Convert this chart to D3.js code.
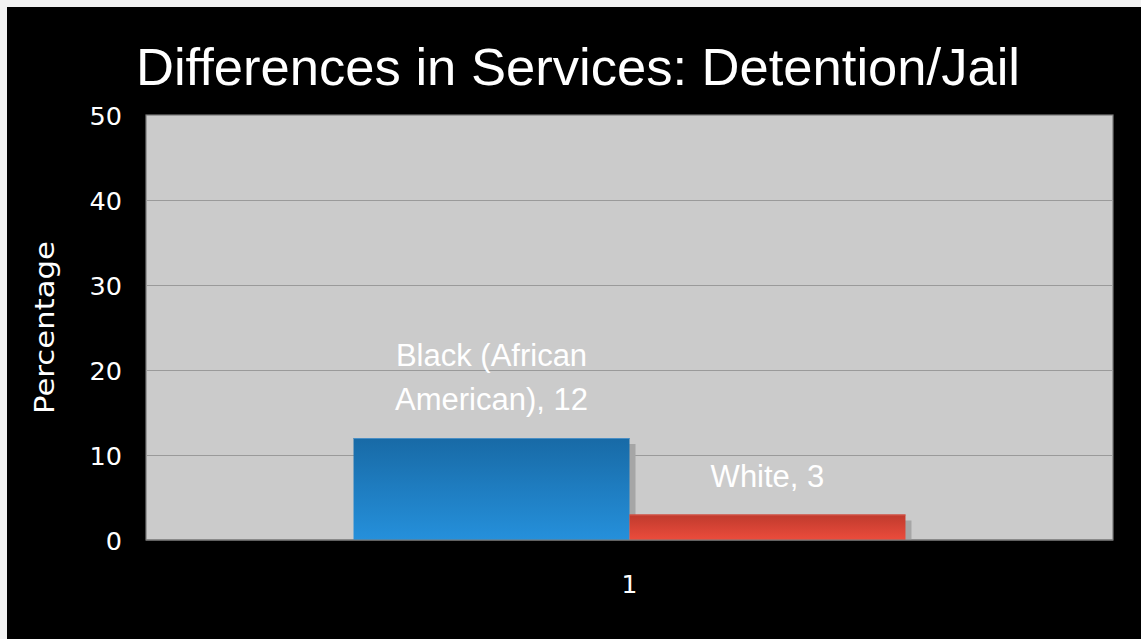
<!DOCTYPE html>
<html>
<head>
<meta charset="utf-8">
<script src="https://cdn.jsdelivr.net/npm/d3@7"></script>
<style>
  html, body { margin: 0; padding: 0; background: #f2f2f2; }
  svg { display: block; }
</style>
</head>
<body>
<svg id="chart" width="1141" height="639"></svg>
<script>
// Chart data
const categories = ["1"];
const seriesNames = ["Black (African American)", "White"];
const seriesLabelLines = [["Black (African", "American), 12"], ["White, 3"]];
const seriesValues = [12, 3];
const seriesColorsTop = ["#186aa6", "#bf3a2d"];
const seriesColorsBottom = ["#2590db", "#ec4c3c"];
const yTicks = [0, 10, 20, 30, 40, 50];
const title = "Differences in Services: Detention/Jail";
const yTitle = "Percentage";

const W = 1141, H = 639;
const svg = d3.select("#chart");

// slide frame: thin light edge on top/left, black body
svg.append("rect").attr("x", 0).attr("y", 0).attr("width", W).attr("height", H).attr("fill", "#f2f2f2");
svg.append("rect").attr("x", 7).attr("y", 7).attr("width", W - 7).attr("height", H - 7).attr("fill", "#000");

const plot = { left: 146, right: 1113, top: 115, bottom: 540 };

const y = d3.scaleLinear().domain([0, 50]).range([plot.bottom, plot.top]);
const x0 = d3.scaleBand().domain(categories).range([plot.left, plot.right])
  .paddingInner(0).paddingOuter(0.376);
const x1 = d3.scaleBand().domain(seriesNames).range([0, x0.bandwidth()]).padding(0);

// gradients
const defs = svg.append("defs");
seriesNames.forEach((s, i) => {
  const g = defs.append("linearGradient").attr("id", "grad" + i)
    .attr("x1", 0).attr("y1", 0).attr("x2", 0).attr("y2", 1);
  g.append("stop").attr("offset", "0%").attr("stop-color", seriesColorsTop[i]);
  g.append("stop").attr("offset", "100%").attr("stop-color", seriesColorsBottom[i]);
});

// plot background
svg.append("rect")
  .attr("x", plot.left).attr("y", plot.top)
  .attr("width", plot.right - plot.left).attr("height", plot.bottom - plot.top)
  .attr("fill", "#cbcbcb").attr("stroke", "#7a7a7a").attr("stroke-width", 1.2);

// gridlines
svg.append("g").selectAll("line")
  .data(yTicks.filter(t => t > 0 && t < 50))
  .join("line")
  .attr("x1", plot.left).attr("x2", plot.right)
  .attr("y1", d => Math.round(y(d)) + 0.5).attr("y2", d => Math.round(y(d)) + 0.5)
  .attr("stroke", "#9a9a9a").attr("stroke-width", 1);

// y axis labels
const yAxis = d3.axisLeft(y).tickValues(yTicks).tickSize(0).tickPadding(0);
const yg = svg.append("g").attr("transform", `translate(${plot.left - 24},0)`).call(yAxis);
yg.select(".domain").remove();
yg.selectAll("text")
  .attr("fill", "#fff")
  .attr("font-family", "'DejaVu Sans', sans-serif")
  .attr("font-size", 25.5)
  .attr("dy", "0.36em");

// x axis label
const xAxis = d3.axisBottom(x0).tickSize(0).tickPadding(0);
const xg = svg.append("g").attr("transform", `translate(0,${plot.bottom + 35})`).call(xAxis);
xg.select(".domain").remove();
xg.selectAll("text")
  .attr("fill", "#fff")
  .attr("font-family", "'DejaVu Sans', sans-serif")
  .attr("font-size", 25)
  .attr("dy", "0.71em");

// bars with drop shadow
const groups = svg.append("g").selectAll("g")
  .data(categories).join("g")
  .attr("transform", d => `translate(${x0(d)},0)`);

const barData = seriesNames.map((s, i) => ({ s, i, v: seriesValues[i] }));

groups.selectAll("rect.shadow").data(barData).join("rect")
  .attr("class", "shadow")
  .attr("x", d => x1(d.s) + 6)
  .attr("y", d => y(d.v) + 6)
  .attr("width", x1.bandwidth())
  .attr("height", d => plot.bottom - y(d.v) - 6)
  .attr("fill", "#a6a6a6");

groups.selectAll("rect.bar").data(barData).join("rect")
  .attr("class", "bar")
  .attr("x", d => x1(d.s))
  .attr("y", d => y(d.v))
  .attr("width", x1.bandwidth())
  .attr("height", d => plot.bottom - y(d.v))
  .attr("fill", d => `url(#grad${d.i})`);

groups.selectAll("line.bartop").data(barData).join("line")
  .attr("class", "bartop")
  .attr("x1", d => x1(d.s)).attr("x2", d => x1(d.s) + x1.bandwidth())
  .attr("y1", d => y(d.v) + 0.5).attr("y2", d => y(d.v) + 0.5)
  .attr("stroke", (d, i) => i === 0 ? "#4a8ec4" : "#d8594c").attr("stroke-width", 1);

// baseline
svg.append("line")
  .attr("x1", plot.left).attr("x2", plot.right)
  .attr("y1", plot.bottom).attr("y2", plot.bottom)
  .attr("stroke", "#7a7a7a").attr("stroke-width", 1.2);

// value labels above each bar
const lineGap = 44;
groups.selectAll("text.lbl").data(barData).join("text")
  .attr("class", "lbl")
  .attr("y", d => y(d.v) - 28 - (seriesLabelLines[d.i].length - 1) * lineGap)
  .attr("text-anchor", "middle")
  .attr("fill", "#fff")
  .attr("font-family", "'Liberation Sans', Arial, sans-serif")
  .attr("font-size", 31)
  .selectAll("tspan")
  .data(d => seriesLabelLines[d.i].map((t, k) => ({ t, k, d })))
  .join("tspan")
  .attr("x", o => x1(o.d.s) + x1.bandwidth() / 2)
  .attr("dy", o => o.k === 0 ? 0 : lineGap)
  .text(o => o.t);

// y axis title
svg.append("text")
  .attr("transform", `translate(54,${(plot.top + plot.bottom) / 2}) rotate(-90)`)
  .attr("text-anchor", "middle")
  .attr("fill", "#fff")
  .attr("font-family", "'DejaVu Sans', sans-serif")
  .attr("font-size", 27)
  .attr("textLength", 173)
  .attr("lengthAdjust", "spacingAndGlyphs")
  .text(yTitle);

// title
svg.append("text")
  .attr("x", 578).attr("y", 84.5)
  .attr("text-anchor", "middle")
  .attr("fill", "#fff")
  .attr("font-family", "'Liberation Sans', Arial, sans-serif")
  .attr("font-size", 52)
  .attr("textLength", 884)
  .attr("lengthAdjust", "spacingAndGlyphs")
  .text(title);
</script>
</body>
</html>
